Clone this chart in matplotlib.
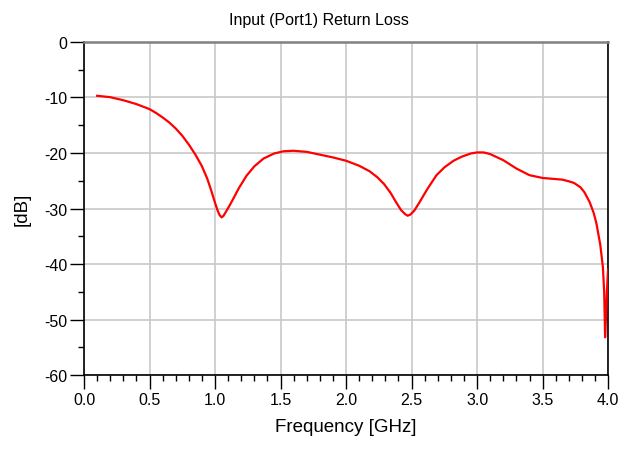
import matplotlib
matplotlib.use("Agg")
import matplotlib.pyplot as plt
from matplotlib.ticker import MultipleLocator, FormatStrFormatter

plt.rcParams['font.family'] = ['Liberation Sans', 'DejaVu Sans']
plt.rcParams['axes.unicode_minus'] = False

# frequency [GHz] and return loss [dB]
freq = [0.10, 0.20, 0.30, 0.40, 0.50, 0.55, 0.60, 0.65, 0.70, 0.75, 0.80,
        0.85, 0.90, 0.94, 0.97, 1.00, 1.02, 1.035, 1.05, 1.065, 1.08, 1.11,
        1.14, 1.18, 1.24, 1.30, 1.37, 1.45, 1.52, 1.60, 1.70, 1.80, 1.90,
        2.00, 2.10, 2.18, 2.24, 2.29, 2.34, 2.38, 2.42, 2.45, 2.47, 2.49,
        2.52, 2.56, 2.62, 2.69, 2.75, 2.82, 2.88, 2.95, 3.00, 3.05, 3.10,
        3.20, 3.30, 3.40, 3.50, 3.60, 3.65, 3.70, 3.74, 3.79, 3.82, 3.86,
        3.89, 3.91, 3.94, 3.96, 3.97, 3.977, 3.983, 3.99, 3.995, 4.00]
rl = [-9.7, -9.95, -10.5, -11.2, -12.1, -12.8, -13.6, -14.5, -15.6, -16.9,
      -18.5, -20.3, -22.4, -24.6, -26.7, -29.0, -30.4, -31.2, -31.6, -31.3,
      -30.7, -29.5, -28.2, -26.4, -24.1, -22.4, -21.0, -20.1, -19.7, -19.6,
      -19.8, -20.3, -20.8, -21.4, -22.3, -23.3, -24.4, -25.6, -27.2, -28.8,
      -30.3, -31.0, -31.3, -31.1, -30.4, -28.9, -26.5, -24.0, -22.6, -21.4,
      -20.7, -20.1, -19.9, -19.9, -20.2, -21.3, -22.8, -24.0, -24.5, -24.7,
      -24.8, -25.1, -25.4, -26.2, -27.1, -28.9, -30.8, -32.6, -36.5, -40.5,
      -45.0, -53.2, -50.0, -45.5, -43.0, -41.0]

fig = plt.figure(figsize=(6.18, 4.52), dpi=100)
ax = fig.add_axes([0.136, 0.168, 0.848, 0.737])

ax.plot(freq, rl, color='#ff0000', lw=1.6, zorder=3)

ax.set_xlim(0, 4)
ax.set_ylim(-60, 0)
ax.xaxis.set_major_locator(MultipleLocator(0.5))
ax.xaxis.set_minor_locator(MultipleLocator(0.1))
ax.yaxis.set_major_locator(MultipleLocator(10))
ax.yaxis.set_minor_locator(MultipleLocator(5))
ax.xaxis.set_major_formatter(FormatStrFormatter('%.1f'))

ax.grid(True, which='major', color='#c8c8c8', lw=1.2, zorder=0)
ax.tick_params(axis='both', which='major', direction='out', length=10,
               width=1.0, labelsize=11.5, pad=2, color='black')
ax.tick_params(axis='both', which='minor', direction='out', length=4.5,
               width=1.0, color='black')
ax.tick_params(axis='y', right=False, which='both')
ax.tick_params(axis='x', top=False, which='both')

for side in ['left', 'bottom', 'right']:
    ax.spines[side].set_color('black')
    ax.spines[side].set_linewidth(1.2)
ax.spines['top'].set_color('#808080')
ax.spines['top'].set_linewidth(1.8)

ax.set_xlabel('Frequency [GHz]', fontsize=13.5, labelpad=8)
ax.set_ylabel('[dB]', fontsize=13.5, labelpad=10)
fig.text(0.516, 0.955, 'Input (Port1) Return Loss', fontsize=11.5,
         ha='center', va='center')

fig.savefig('out.png', dpi=100)
